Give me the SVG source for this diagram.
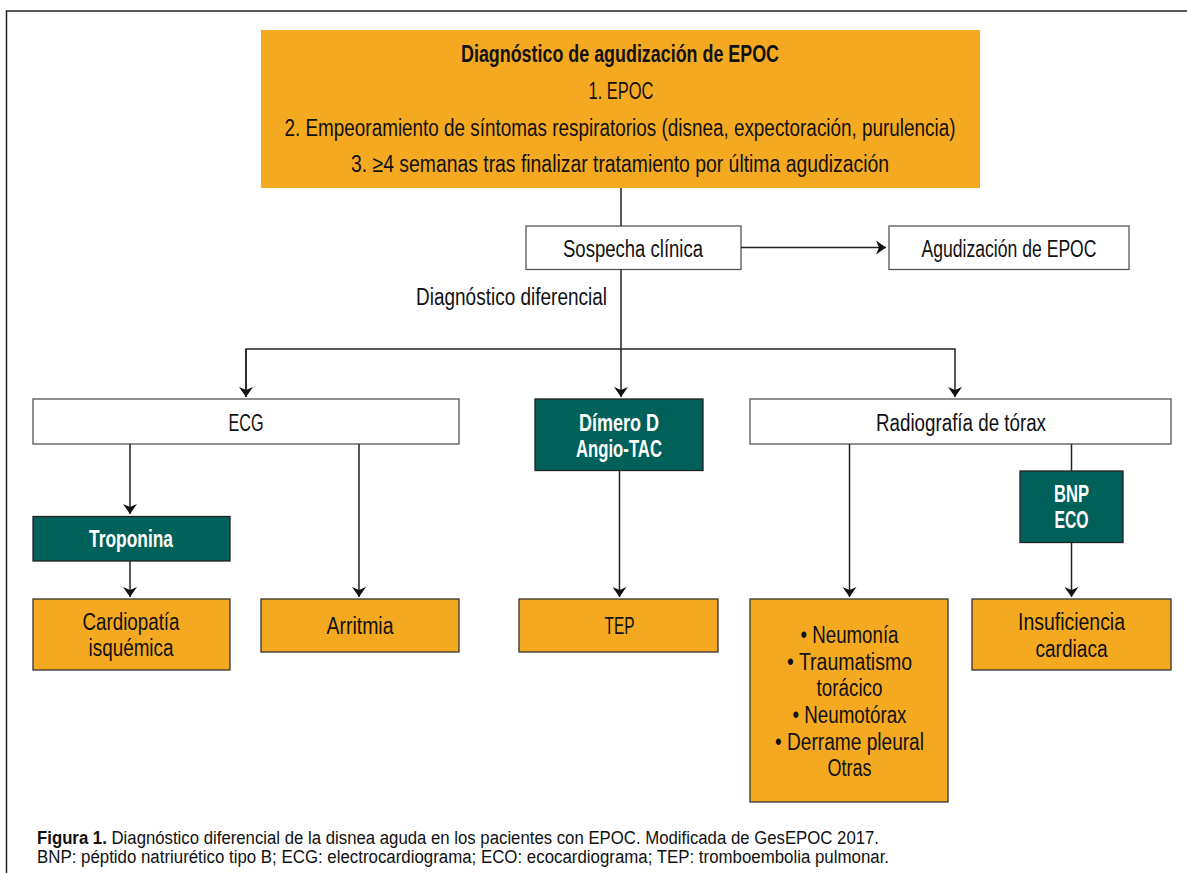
<svg xmlns="http://www.w3.org/2000/svg" width="1187" height="873" viewBox="0 0 1187 873">
<defs>
<marker id="arr" viewBox="0 0 10 14" refX="10" refY="7" markerWidth="10" markerHeight="14" markerUnits="userSpaceOnUse" orient="auto">
<path d="M0,0 L10,7 L0,14 L3,7 Z" fill="#111"/>
</marker>
<style>
text{font-family:"Liberation Sans",Arial,sans-serif;font-size:23.5px;fill:#111;text-anchor:middle}
.w{fill:#fff;stroke:#555;stroke-width:1.3}
.o{fill:#F5A920;stroke:#333;stroke-width:1.3}
.t{fill:#00605A;stroke:#222;stroke-width:1.3}
.tt{fill:#fff;font-weight:bold}
.b{font-weight:bold}
.c{stroke:#222;stroke-width:1.5;fill:none}
.cap{font-size:18px;text-anchor:start}
</style>
</defs>
<rect width="1187" height="873" fill="#fff"/>
<path d="M6.5,873 V11 H1187" fill="none" stroke="#222" stroke-width="1.5"/>
<g id="top">
<rect x="261" y="30" width="719" height="158" fill="#F5A920"/>
<text x="620" y="61.5" class="b" textLength="318" lengthAdjust="spacingAndGlyphs">Diagnóstico de agudización de EPOC</text>
<text x="621" y="98.5" textLength="65" lengthAdjust="spacingAndGlyphs">1. EPOC</text>
<text x="620" y="135.5" textLength="671" lengthAdjust="spacingAndGlyphs">2. Empeoramiento de síntomas respiratorios (disnea, expectoración, purulencia)</text>
<text x="620" y="172" textLength="538" lengthAdjust="spacingAndGlyphs">3. ≥4 semanas tras finalizar tratamiento por última agudización</text>
</g>
<g id="sospecha"><rect class="w" x="526" y="226" width="215" height="43.5"/><text x="633" y="256.5" textLength="140" lengthAdjust="spacingAndGlyphs">Sospecha clínica</text></g>
<g id="agudizacion"><rect class="w" x="889" y="226" width="240" height="43.5"/><text x="1009" y="256.5" textLength="175" lengthAdjust="spacingAndGlyphs">Agudización de EPOC</text></g>
<g id="ecg"><rect class="w" x="33" y="399" width="426" height="45"/><text x="246" y="430.5" textLength="35" lengthAdjust="spacingAndGlyphs">ECG</text></g>
<g id="dimero"><rect class="t" x="535" y="399" width="168" height="71.5"/><text class="tt" x="619" y="430.5" textLength="80" lengthAdjust="spacingAndGlyphs">Dímero D</text><text class="tt" x="619" y="456.5" textLength="86" lengthAdjust="spacingAndGlyphs">Angio-TAC</text></g>
<g id="radiografia"><rect class="w" x="750" y="399" width="421" height="45"/><text x="961" y="430.5" textLength="170" lengthAdjust="spacingAndGlyphs">Radiografía de tórax</text></g>
<g id="troponina"><rect class="t" x="33" y="516.5" width="197" height="44.5"/><text class="tt" x="131" y="546.5" textLength="84" lengthAdjust="spacingAndGlyphs">Troponina</text></g>
<g id="bnp"><rect class="t" x="1020" y="471" width="103" height="71.5"/><text class="tt" x="1071.5" y="501.5" textLength="35" lengthAdjust="spacingAndGlyphs">BNP</text><text class="tt" x="1071.5" y="528" textLength="34" lengthAdjust="spacingAndGlyphs">ECO</text></g>
<g id="cardiopatia"><rect class="o" x="33" y="599" width="197" height="71"/><text x="131" y="629.5" textLength="97" lengthAdjust="spacingAndGlyphs">Cardiopatía</text><text x="131" y="656" textLength="85" lengthAdjust="spacingAndGlyphs">isquémica</text></g>
<g id="arritmia"><rect class="o" x="261" y="599" width="198" height="53"/><text x="360" y="634" textLength="67" lengthAdjust="spacingAndGlyphs">Arritmia</text></g>
<g id="tep"><rect class="o" x="519" y="599" width="199" height="53"/><text x="619.5" y="633.5" textLength="30" lengthAdjust="spacingAndGlyphs">TEP</text></g>
<g id="otras"><rect class="o" x="750" y="599" width="198" height="203"/>
<text x="849.5" y="642.5" textLength="98" lengthAdjust="spacingAndGlyphs">• Neumonía</text>
<text x="849.5" y="669.5" textLength="125" lengthAdjust="spacingAndGlyphs">• Traumatismo</text>
<text x="849.5" y="696" textLength="66" lengthAdjust="spacingAndGlyphs">torácico</text>
<text x="849.5" y="722.5" textLength="114" lengthAdjust="spacingAndGlyphs">• Neumotórax</text>
<text x="849.5" y="749.5" textLength="149" lengthAdjust="spacingAndGlyphs">• Derrame pleural</text>
<text x="849.5" y="775.5" textLength="44" lengthAdjust="spacingAndGlyphs">Otras</text>
</g>
<g id="insuficiencia"><rect class="o" x="972" y="599" width="199" height="71"/><text x="1071.5" y="630" textLength="107" lengthAdjust="spacingAndGlyphs">Insuficiencia</text><text x="1071.5" y="656.5" textLength="72" lengthAdjust="spacingAndGlyphs">cardiaca</text></g>
<g id="connectors">
<path class="c" d="M621,188 V226"/>
<path class="c" d="M741,247.5 H886" marker-end="url(#arr)"/>
<path class="c" d="M621,269.5 V397" marker-end="url(#arr)"/>
<path class="c" d="M246,397 V349 H955 V397" marker-end="url(#arr)"/>
<path class="c" d="M246,349 V397" marker-end="url(#arr)"/>
<path class="c" d="M130,444 V514" marker-end="url(#arr)"/>
<path class="c" d="M130,561 V597" marker-end="url(#arr)"/>
<path class="c" d="M359,444 V597" marker-end="url(#arr)"/>
<path class="c" d="M619.5,470.5 V597" marker-end="url(#arr)"/>
<path class="c" d="M849.5,444 V597" marker-end="url(#arr)"/>
<path class="c" d="M1071.5,444 V471"/>
<path class="c" d="M1071.5,542.5 V597" marker-end="url(#arr)"/>
</g>
<text x="607" y="305" style="text-anchor:end" textLength="191" lengthAdjust="spacingAndGlyphs">Diagnóstico diferencial</text>
<text class="cap" x="37" y="844" textLength="842" lengthAdjust="spacingAndGlyphs"><tspan font-weight="bold">Figura 1.</tspan> Diagnóstico diferencial de la disnea aguda en los pacientes con EPOC. Modificada de GesEPOC 2017.</text>
<text class="cap" x="37" y="863" textLength="852" lengthAdjust="spacingAndGlyphs">BNP: péptido natriurético tipo B; ECG: electrocardiograma; ECO: ecocardiograma; TEP: tromboembolia pulmonar.</text>
</svg>
